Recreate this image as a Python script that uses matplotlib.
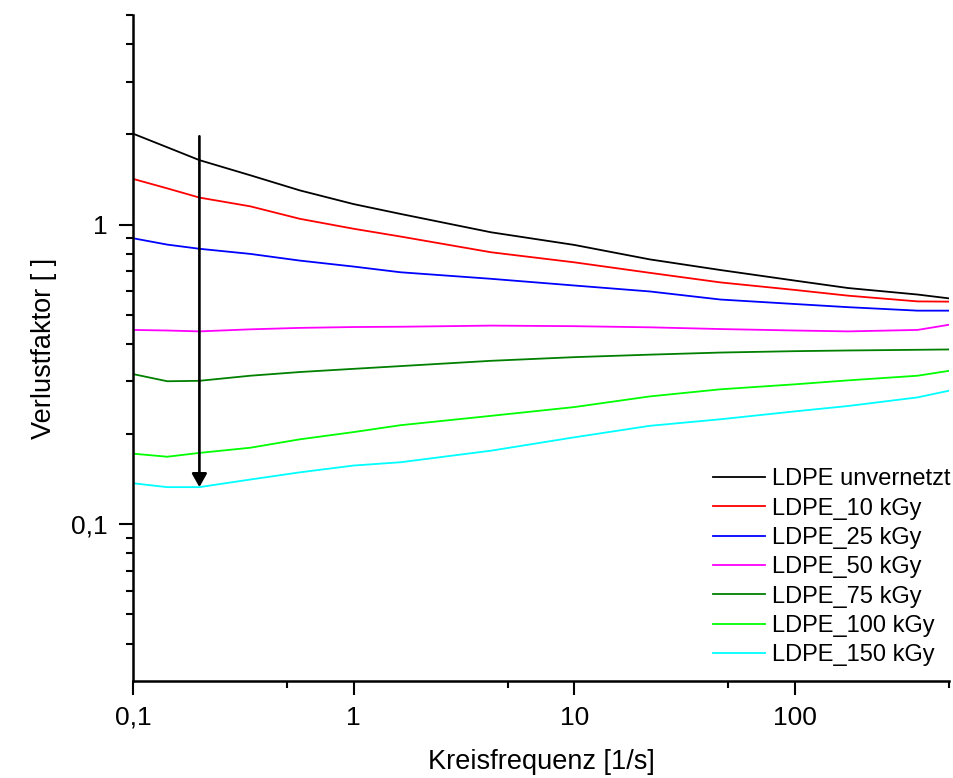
import matplotlib
matplotlib.use("Agg")
import matplotlib.pyplot as plt
from matplotlib.ticker import FixedLocator, NullFormatter, FuncFormatter

plt.rcParams['font.family'] = ['Liberation Sans', 'DejaVu Sans']

# Angular frequency [1/s]
freq = [0.1, 0.143, 0.2, 0.34, 0.57, 1.0, 1.63, 4.2, 10, 22, 46, 100, 174, 360, 500]

# Loss factor tan(delta) per irradiation dose
tan_unvernetzt = [2.01, 1.81, 1.64, 1.46, 1.30, 1.17, 1.085, 0.942, 0.855, 0.765, 0.705, 0.65, 0.614, 0.584, 0.567]
tan_10 = [1.42, 1.32, 1.23, 1.15, 1.045, 0.968, 0.912, 0.808, 0.748, 0.69, 0.641, 0.605, 0.579, 0.554, 0.553]
tan_25 = [0.90, 0.857, 0.83, 0.798, 0.758, 0.724, 0.693, 0.659, 0.626, 0.598, 0.562, 0.543, 0.53, 0.516, 0.516]
tan_50 = [0.445, 0.443, 0.44, 0.447, 0.452, 0.455, 0.456, 0.46, 0.458, 0.454, 0.448, 0.443, 0.44, 0.445, 0.463]
tan_75 = [0.317, 0.30, 0.301, 0.313, 0.322, 0.33, 0.337, 0.351, 0.361, 0.368, 0.374, 0.378, 0.38, 0.382, 0.383]
tan_100 = [0.172, 0.168, 0.173, 0.18, 0.192, 0.203, 0.214, 0.23, 0.246, 0.267, 0.282, 0.293, 0.302, 0.313, 0.325]
tan_150 = [0.137, 0.133, 0.133, 0.141, 0.149, 0.157, 0.161, 0.176, 0.195, 0.213, 0.224, 0.238, 0.248, 0.265, 0.279]

labels = ["LDPE unvernetzt", "LDPE_10 kGy", "LDPE_25 kGy", "LDPE_50 kGy",
          "LDPE_75 kGy", "LDPE_100 kGy", "LDPE_150 kGy"]
series = [tan_unvernetzt, tan_10, tan_25, tan_50, tan_75, tan_100, tan_150]
colors = ["#000000", "#ff0000", "#0000ff", "#ff00ff", "#008000", "#00ff00", "#00ffff"]

# Arrow indicating increasing dose
arrow_x = 0.2
arrow_from = 1.97
arrow_to = 0.133

fig = plt.figure(figsize=(9.54, 7.78), dpi=100)
ax = fig.add_axes([0.1394, 0.1247, 0.9948 - 0.1394, 0.9807 - 0.1247])

for y, lab, c in zip(series, labels, colors):
    ax.plot(freq, y, color=c, lw=1.3, label=lab)

ax.annotate("", xy=(arrow_x, arrow_to), xytext=(arrow_x, arrow_from),
            arrowprops=dict(arrowstyle="-|>,head_length=0.8,head_width=0.45",
                            color="black", lw=1.9, shrinkA=0, shrinkB=0))

ax.set_xscale("log")
ax.set_yscale("log")
ax.set_xlim(0.1, 500)
ax.set_ylim(0.03, 5)

for side in ("top", "right"):
    ax.spines[side].set_visible(False)
for side in ("left", "bottom"):
    ax.spines[side].set_linewidth(1.8)

def comma_fmt(v, pos):
    s = f"{v:g}"
    return s.replace(".", ",")

ax.xaxis.set_major_locator(FixedLocator([0.1, 1, 10, 100]))
ax.xaxis.set_minor_locator(FixedLocator([0.5, 5, 50, 500]))
ax.xaxis.set_major_formatter(FuncFormatter(comma_fmt))
ax.xaxis.set_minor_formatter(NullFormatter())

ax.yaxis.set_major_locator(FixedLocator([0.1, 1]))
ax.yaxis.set_minor_locator(FixedLocator(
    [0.04, 0.05, 0.06, 0.07, 0.08, 0.09,
     0.2, 0.3, 0.4, 0.5, 0.6, 0.7, 0.8, 0.9,
     2, 3, 4, 5]))
ax.yaxis.set_major_formatter(FuncFormatter(comma_fmt))
ax.yaxis.set_minor_formatter(NullFormatter())

ax.tick_params(which="major", direction="out", length=10, width=1.5,
               labelsize=19, pad=8)
ax.tick_params(which="minor", direction="out", length=5, width=1.5)

ax.set_xlabel("Kreisfrequenz [1/s]", fontsize=19.5, labelpad=14)
ax.set_ylabel("Verlustfaktor [ ]", fontsize=19.5, labelpad=10)

ax.legend(loc="upper left", bbox_to_anchor=(0.747, 0.398),
          bbox_transform=fig.transFigure, frameon=False, fontsize=17,
          handlelength=2.2, handletextpad=0.33, labelspacing=0.31,
          borderpad=0, borderaxespad=0)

fig.savefig("out.png", dpi=100)
